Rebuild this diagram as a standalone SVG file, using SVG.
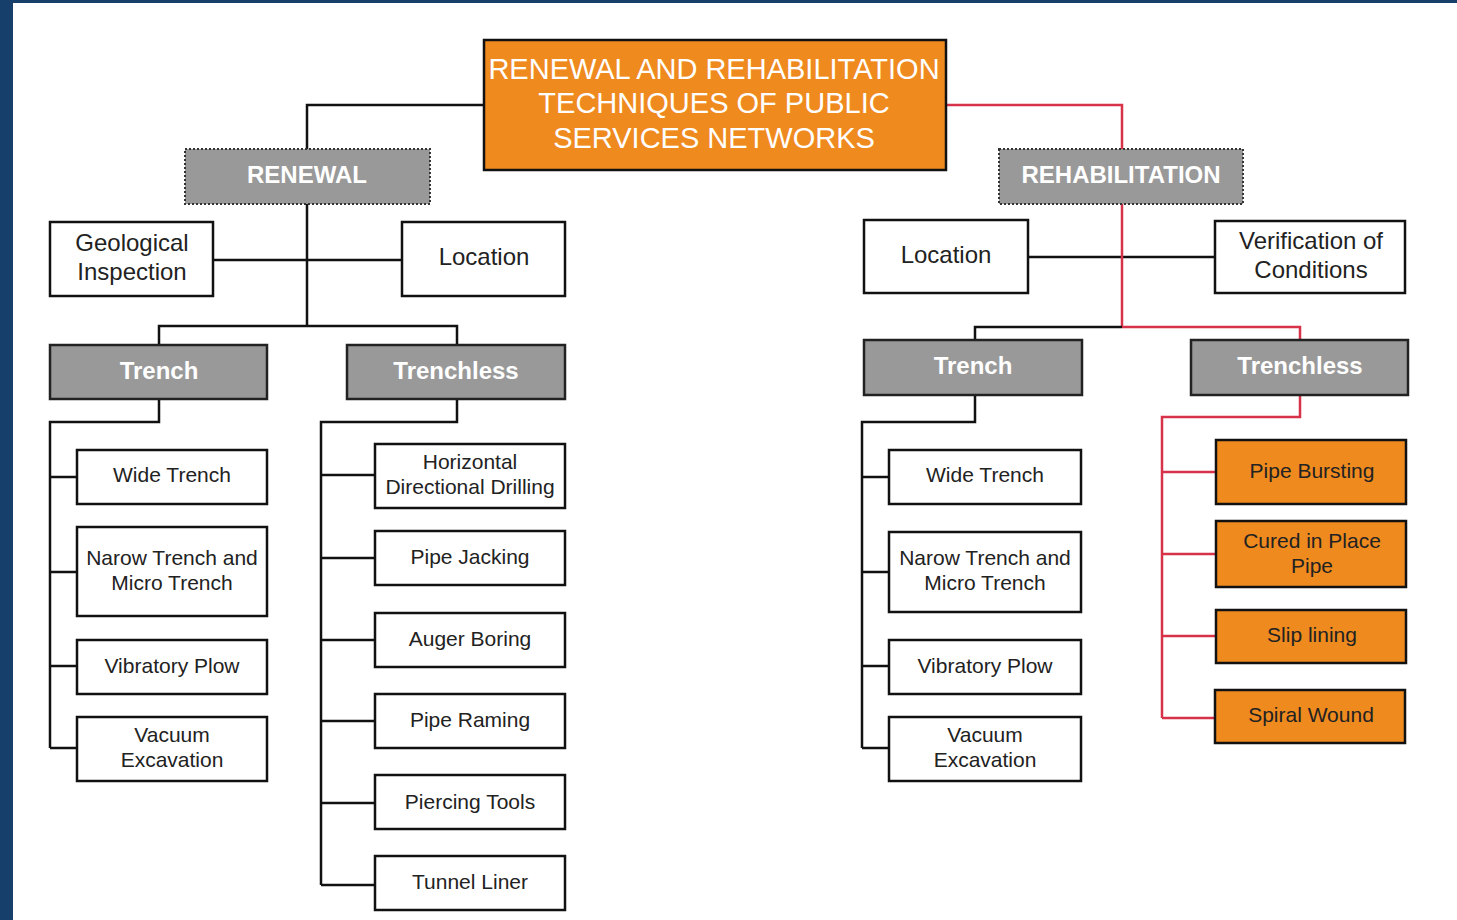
<svg xmlns="http://www.w3.org/2000/svg" width="1457" height="920" viewBox="0 0 1457 920">
<style>
  .box { fill: #ffffff; stroke: #111111; stroke-width: 2.5; }
  .gray { fill: #999999; stroke: #222222; stroke-width: 2.5; }
  .dot { fill: #999999; stroke: #333333; stroke-width: 2; stroke-dasharray: 2 2; }
  .org { fill: #EF8A1F; stroke: #111111; stroke-width: 2.5; }
  .t { font-family: "Liberation Sans", Arial, sans-serif; font-size: 21px; fill: #222222; text-anchor: middle; }
  .tl { font-family: "Liberation Sans", Arial, sans-serif; font-size: 24px; fill: #222222; text-anchor: middle; }
  .tw { font-family: "Liberation Sans", Arial, sans-serif; font-size: 24px; font-weight: bold; fill: #ffffff; text-anchor: middle; }
  .title { font-family: "Liberation Sans", Arial, sans-serif; font-size: 29px; fill: #ffffff; text-anchor: middle; }
  .blk { fill: none; stroke: #111111; stroke-width: 2.5; }
  .red { fill: none; stroke: #D6334A; stroke-width: 2.5; }
</style>
<rect x="0" y="0" width="1457" height="920" fill="#ffffff"/>
<rect x="0" y="0" width="1457" height="3" fill="#173F6B"/>
<rect x="0" y="0" width="13" height="920" fill="#173F6B"/>

<g id="connectors">
  <path class="blk" d="M484,105 H307 V149"/>
  <path class="blk" d="M307,204 V326 M213,260 H402 M159,345 V326 H457 V345"/>
  <path class="blk" d="M159,399 V422 H50 V748 M50,477 H77 M50,572 H77 M50,666 H77 M50,748 H77"/>
  <path class="blk" d="M457,399 V422 H321 V885 M321,475 H375 M321,558 H375 M321,640 H375 M321,721 H375 M321,803 H375 M321,885 H375"/>
  <path class="red" d="M946,105 H1122 V149"/>
  <path class="blk" d="M1028,257 H1215"/>
  <path class="red" d="M1122,204 V327"/>
  <path class="blk" d="M1122,327 H975 V340"/>
  <path class="red" d="M1122,327 H1300 V340"/>
  <path class="blk" d="M975,395 V422 H862 V748 M862,477 H889 M862,572 H889 M862,666 H889 M862,748 H889"/>
  <path class="red" d="M1300,395 V417 H1162 V718 M1162,472 H1216 M1162,554 H1216 M1162,636 H1216 M1162,718 H1216"/>
</g>

<g id="title">
  <rect class="org" x="484" y="40" width="462" height="130"/>
  <text class="title" x="714" y="79">RENEWAL AND REHABILITATION</text>
  <text class="title" x="714" y="113">TECHNIQUES OF PUBLIC</text>
  <text class="title" x="714" y="148">SERVICES NETWORKS</text>
</g>

<g id="renewal">
  <rect class="dot" x="185" y="149" width="245" height="55"/>
  <text class="tw" x="307" y="183">RENEWAL</text>
</g>
<g id="geological">
  <rect class="box" x="50" y="222" width="163" height="74"/>
  <text class="tl" x="132" y="251">Geological</text>
  <text class="tl" x="132" y="280">Inspection</text>
</g>
<g id="location-l">
  <rect class="box" x="402" y="222" width="163" height="74"/>
  <text class="tl" x="484" y="265">Location</text>
</g>
<g id="trench-l">
  <rect class="gray" x="50" y="345" width="217" height="54"/>
  <text class="tw" x="159" y="379">Trench</text>
</g>
<g id="trenchless-l">
  <rect class="gray" x="347" y="345" width="218" height="54"/>
  <text class="tw" x="456" y="379">Trenchless</text>
</g>
<g id="wide-trench-l">
  <rect class="box" x="77" y="450" width="190" height="54"/>
  <text class="t" x="172" y="482">Wide Trench</text>
</g>
<g id="narow-l">
  <rect class="box" x="77" y="527" width="190" height="89"/>
  <text class="t" x="172" y="565">Narow Trench and</text>
  <text class="t" x="172" y="590">Micro Trench</text>
</g>
<g id="vibratory-l">
  <rect class="box" x="77" y="640" width="190" height="54"/>
  <text class="t" x="172" y="673">Vibratory Plow</text>
</g>
<g id="vacuum-l">
  <rect class="box" x="77" y="717" width="190" height="64"/>
  <text class="t" x="172" y="742">Vacuum</text>
  <text class="t" x="172" y="767">Excavation</text>
</g>
<g id="hdd">
  <rect class="box" x="375" y="444" width="190" height="64"/>
  <text class="t" x="470" y="469">Horizontal</text>
  <text class="t" x="470" y="494">Directional Drilling</text>
</g>
<g id="pipe-jacking">
  <rect class="box" x="375" y="531" width="190" height="54"/>
  <text class="t" x="470" y="564">Pipe Jacking</text>
</g>
<g id="auger-boring">
  <rect class="box" x="375" y="613" width="190" height="54"/>
  <text class="t" x="470" y="646">Auger Boring</text>
</g>
<g id="pipe-raming">
  <rect class="box" x="375" y="694" width="190" height="54"/>
  <text class="t" x="470" y="727">Pipe Raming</text>
</g>
<g id="piercing-tools">
  <rect class="box" x="375" y="775" width="190" height="54"/>
  <text class="t" x="470" y="809">Piercing Tools</text>
</g>
<g id="tunnel-liner">
  <rect class="box" x="375" y="856" width="190" height="54"/>
  <text class="t" x="470" y="889">Tunnel Liner</text>
</g>

<g id="rehabilitation">
  <rect class="dot" x="999" y="149" width="244" height="55"/>
  <text class="tw" x="1121" y="183">REHABILITATION</text>
</g>
<g id="location-r">
  <rect class="box" x="864" y="220" width="164" height="73"/>
  <text class="tl" x="946" y="263">Location</text>
</g>
<g id="verification">
  <rect class="box" x="1215" y="221" width="190" height="72"/>
  <text class="tl" x="1311" y="249">Verification of</text>
  <text class="tl" x="1311" y="278">Conditions</text>
</g>
<g id="trench-r">
  <rect class="gray" x="864" y="340" width="218" height="55"/>
  <text class="tw" x="973" y="374">Trench</text>
</g>
<g id="trenchless-r">
  <rect class="gray" x="1191" y="340" width="217" height="55"/>
  <text class="tw" x="1300" y="374">Trenchless</text>
</g>
<g id="wide-trench-r">
  <rect class="box" x="889" y="450" width="192" height="54"/>
  <text class="t" x="985" y="482">Wide Trench</text>
</g>
<g id="narow-r">
  <rect class="box" x="889" y="532" width="192" height="80"/>
  <text class="t" x="985" y="565">Narow Trench and</text>
  <text class="t" x="985" y="590">Micro Trench</text>
</g>
<g id="vibratory-r">
  <rect class="box" x="889" y="640" width="192" height="54"/>
  <text class="t" x="985" y="673">Vibratory Plow</text>
</g>
<g id="vacuum-r">
  <rect class="box" x="889" y="717" width="192" height="64"/>
  <text class="t" x="985" y="742">Vacuum</text>
  <text class="t" x="985" y="767">Excavation</text>
</g>
<g id="pipe-bursting">
  <rect class="org" x="1216" y="440" width="190" height="64"/>
  <text class="t" x="1312" y="478">Pipe Bursting</text>
</g>
<g id="cipp">
  <rect class="org" x="1216" y="521" width="190" height="66"/>
  <text class="t" x="1312" y="548">Cured in Place</text>
  <text class="t" x="1312" y="573">Pipe</text>
</g>
<g id="slip-lining">
  <rect class="org" x="1216" y="610" width="190" height="53"/>
  <text class="t" x="1312" y="642">Slip lining</text>
</g>
<g id="spiral-wound">
  <rect class="org" x="1215" y="690" width="190" height="53"/>
  <text class="t" x="1311" y="722">Spiral Wound</text>
</g>
</svg>
